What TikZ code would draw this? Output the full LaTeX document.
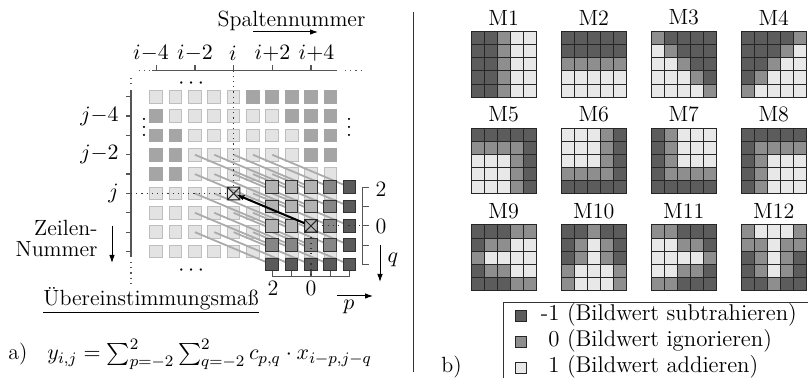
\documentclass[tikz,border=0pt]{standalone}
\usepackage{amsmath,amssymb}
\usepackage{tikz}
\usetikzlibrary{arrows.meta}
\definecolor{iL}{HTML}{E3E3E3}
\definecolor{iD}{HTML}{A5A5A5}
\definecolor{eL}{HTML}{BEBEBE}
\definecolor{eD}{HTML}{A5A5A5}
\definecolor{kL}{HTML}{B2B2B2}
\definecolor{kG}{HTML}{868686}
\definecolor{kD}{HTML}{5A5A5A}
\definecolor{mL}{HTML}{E8E8E8}
\definecolor{mG}{HTML}{8E8E8E}
\definecolor{mD}{HTML}{5C5C5C}
\definecolor{axisgray}{HTML}{555555}
\definecolor{raygray}{HTML}{ABABAB}

\begin{document}
\begin{tikzpicture}[x=0.5pt,y=-0.5pt,font=\fontsize{11}{13}\selectfont,
  >={Latex[length=4pt,width=2.8pt]},
  pix/.style={inner sep=0pt,outer sep=0pt,minimum size=6.35pt,line width=0.5pt},
  kcell/.style={pix,draw=black!80},
  mcell/.style={inner sep=0pt,outer sep=0pt,minimum size=6.55pt,draw=black!85,line width=0.5pt},
  axis/.style={axisgray,line width=0.6pt},
  dots/.style={black!80,line width=0.6pt,dotted},
  ray/.style={raygray,line width=0.9pt},
  xmark/.style={black!85,line width=0.5pt},
  txt/.style={inner sep=0pt}]
\useasboundingbox (0,0) rectangle (808,378);
% a) Bild mit Maske
\foreach \row [count=\r] in {{L,L,L,L,L,D,D,D,D,D},{D,L,L,L,L,L,L,D,D,D},{D,D,L,L,L,L,L,L,D,D},
    {D,D,L,L,L,L,L,L,D,D},{D,D,L,L,L,L,L,L,L,L},{L,L,L,L,L,L,L,L,L,L},
    {L,L,L,L,L,L,L,L,L,L},{L,L,L,L,L,L,L,L,L,L},{L,L,L,L,L,L,L,L,L,L}}{
  \foreach \v [count=\k] in \row
    \node[pix,fill=i\v,draw=e\v] (g-\r-\k) at ({156.2+19.35*(\k-1)},{96.7+19.35*(\r-1)}) {};
}
\foreach \r in {1,...,5}
  \foreach \k in {1,...,5}{
    \coordinate (kc-\r-\k) at ({272.2+19.35*(\k-1)},{187.2+19.35*(\r-1)});
    \pgfmathtruncatemacro{\gr}{\r+3}
    \pgfmathtruncatemacro{\gk}{\k+2}
    \draw[ray] (g-\gr-\gk.center) -- (kc-\r-\k);
  }
\foreach \row [count=\r] in {{L,L,L,G,D},{L,L,L,G,D},{L,L,L,G,D},{G,G,G,G,D},{D,D,D,D,D}}{
  \foreach \v [count=\k] in \row
    \node[kcell,fill=k\v] (k-\r-\k) at (kc-\r-\k) {};
}
\foreach \n in {g-6-5,k-3-3}
  \draw[xmark] (\n.north west) rectangle (\n.south east)
    (\n.north west) -- (\n.south east) (\n.north east) -- (\n.south west);

% Achsen
\coordinate (corner) at (131,70.7);
\draw[axis] (152,70.7) -- (337,70.7) (131,90) -- (131,257);
\draw[axis,dotted] (139,70.7) -- (150,70.7) (345,70.7) -- (362,70.7)
  (131,78) -- (131,88) (131,262) -- (131,283);
\foreach \k/\t in {1/i{-}4,3/i{-}2,5/i,7/i{+}2,9/i{+}4}
  \draw[axis] (g-1-\k |- corner) -- ++(0,-5.7);
\foreach \x/\t [count=\n] in {151/i{-}4,195/i{-}2,233/i,272.5/i{+}2,316.5/i{+}4}
  \node (col-\n) at (\x,53.5) {$\t$};
\foreach \r in {1,...,9}
  \draw[axis] (corner |- g-\r-1) -- ++(-5,0);
\foreach \r/\t in {2/j{-}4,4/j{-}2,6/j}
  \node[txt,anchor=east] (row-\r) at (g-\r-1 -| 119,0) {$\t$};
\node[txt] (dots-t) at (193,84) {$\cdots$};
\node[txt] (dots-b) at (193,271) {$\cdots$};
\node[txt] (dots-l) at (144,121) {$\vdots$};
\node[txt] (dots-r) at (349,121) {$\vdots$};
\draw[dots] (g-6-5.north |- corner) -- (g-6-5.north);
\draw[dots] (corner |- g-6-5) -- (g-6-5.west);

\node (spalte) at (291.5,20.5) {Spaltennummer};
\coordinate (sa) at (253,32);
\coordinate (sb) at (318,32);
\draw[->,line width=0.5pt] (sa) -- (sb);
\node[txt,align=right,anchor=east,font=\fontsize{11}{10.5}\selectfont] (zeilen) at (98,238) {Zeilen-\\Nummer};
\coordinate (za) at (112,226);
\coordinate (zb) at (112,263);
\draw[->,line width=0.5pt] (za) -- (zb);

% Maskenachsen
\coordinate (qax) at (362.7,0);
\coordinate (pax) at (0,276.7);
\draw[axis] (k-1-1 -| qax) -- (k-5-1 -| qax);
\foreach \r in {1,...,5}
  \draw[axis] (k-\r-1 -| qax) -- ++(6,0);
\draw[axis] (k-5-1 |- pax) -- (k-5-5 |- pax);
\foreach \k in {1,...,5}
  \draw[axis] (k-5-\k |- pax) -- ++(0,-5.5);
\draw[dots] (k-3-3.east) -- (k-3-3 -| qax);
\draw[dots] (k-3-3.south) -- (k-3-3 |- pax);
\node (q2) at (381,189) {2};
\node (q0) at (381,226.5) {0};
\node (p2) at (273,288.5) {2};
\node (p0) at (311,288.5) {0};
\coordinate (qa) at (380,245);
\coordinate (qb) at (380,282);
\draw[->,line width=0.5pt] (qa) -- (qb);
\node (qlab) at (393,260) {$q$};
\coordinate (pa) at (337,296);
\coordinate (pb) at (373,296);
\draw[->,line width=0.5pt] (pa) -- (pb);
\node (plab) at (349,307) {$p$};
\draw[->,line width=1pt,shorten >=1.5pt] (k-3-3) -- (g-6-5.center);

\node[txt,anchor=base] (mass) at (151,306) {Übereinstimmungsmaß};
\draw[line width=0.5pt] ([yshift=-0.6pt]mass.south west) -- ([yshift=-0.6pt]mass.south east);
\node[txt,anchor=base west] (la) at (8,360) {a)};
\node[txt,anchor=base west] (formel) at (47,360)
  {$y_{i,j} = \sum_{p=-2}^{2}\sum_{q=-2}^{2} c_{p,q}\cdot x_{i-p,j-q}$};

\draw[line width=0.5pt,black!80] (413,12) -- (413,372);

% b) Masken
\foreach \lab/\mx/\my/\pat in {
  M1/471/31.7/{D,D,G,L,L,D,D,G,L,L,D,D,G,L,L,D,D,G,L,L,D,D,G,L,L},
  M2/561/31.7/{D,D,D,D,D,D,D,D,D,D,G,G,G,G,G,L,L,L,L,L,L,L,L,L,L},
  M3/651/31.7/{G,D,D,D,D,L,G,D,D,D,L,L,G,D,D,L,L,L,G,D,L,L,L,L,G},
  M4/741/31.7/{D,D,D,D,G,D,D,D,G,L,D,D,G,L,L,D,G,L,L,L,G,L,L,L,L},
  M5/471/128.3/{D,D,D,D,D,G,G,G,G,D,L,L,L,G,D,L,L,L,G,D,L,L,L,G,D},
  M6/561/128.3/{L,L,L,G,D,L,L,L,G,D,L,L,L,G,D,G,G,G,G,D,D,D,D,D,D},
  M7/651/128.3/{D,G,L,L,L,D,G,L,L,L,D,G,L,L,L,D,G,G,G,G,D,D,D,D,D},
  M8/741/128.3/{D,D,D,D,D,D,G,G,G,G,D,G,L,L,L,D,G,L,L,L,D,G,L,L,L},
  M9/471/225/{D,D,D,G,G,D,G,G,L,L,G,L,L,L,L,D,G,G,L,L,D,D,D,G,G},
  M10/561/225/{D,D,G,D,D,D,G,L,G,D,D,G,L,G,D,G,L,L,L,G,G,L,L,L,G},
  M11/651/225/{G,G,D,D,D,L,L,G,G,D,L,L,L,L,G,L,L,G,G,D,G,G,D,D,D},
  M12/741/225/{G,L,L,L,G,G,G,L,G,G,D,G,L,G,D,D,G,L,G,D,D,D,G,D,D}}{
  \node (\lab) at ({\mx+32.75},{\my-14}) {\lab};
  \foreach \v [count=\c from 0] in \pat {
    \pgfmathtruncatemacro{\mr}{div(\c,5)}
    \pgfmathtruncatemacro{\mc}{mod(\c,5)}
    \node[mcell,fill=m\v] (\lab-\mr-\mc) at ({\mx+6.55+13.1*\mc},{\my+6.55+13.1*\mr}) {};
  }
}

% Legende
\draw[line width=0.5pt,black!80] (808,303) -- (503,303) -- (503,378);
\foreach \v/\t [count=\n] in {D/{\llap{-}1 (Bildwert subtrahieren)},G/{0 (Bildwert ignorieren)},L/{1 (Bildwert addieren)}}{
  \node[mcell,minimum size=5.5pt,fill=m\v] (leg-\n) at (520.7,{316+26*(\n-1)}) {};
  \node[txt,anchor=base west,font=\fontsize{11.4}{13}\selectfont] (legt-\n) at (548,{321+26*(\n-1)}) {\t};
}
\node[txt,anchor=base west] (lb) at (441,373) {b)};
\end{tikzpicture}
\end{document}
